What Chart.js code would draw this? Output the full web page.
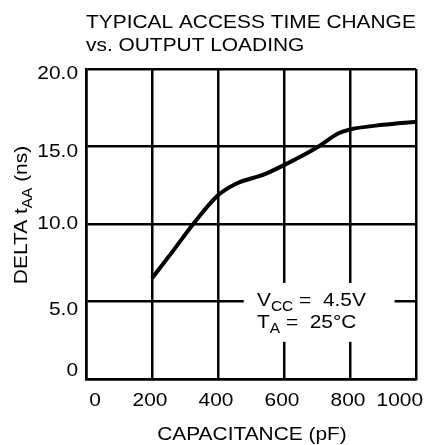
<!DOCTYPE html>
<html>
<head>
<meta charset="utf-8">
<script src="https://cdn.jsdelivr.net/npm/chart.js"></script>
<style>
  html, body { margin: 0; padding: 0; background: #fff; }
  #wrap { width: 426px; height: 445px; position: relative; }
</style>
</head>
<body>
<div id="wrap"><canvas id="c"></canvas></div>
<script>
const capacitance = [200, 265, 325, 400, 455, 540, 600, 655, 705, 765, 800, 900, 1000];
const deltaTaa = [6.5, 8.3, 10.0, 11.85, 12.6, 13.2, 13.8, 14.4, 15.0, 15.85, 16.1, 16.4, 16.6];
const xTicks = [0, 200, 400, 600, 800, 1000];
const yTicks = [0, 5, 10, 15, 20];
const yTickLabels = ['0', '5.0', '10.0', '15.0', '20.0'];
const titleLines = ['TYPICAL ACCESS TIME CHANGE', 'vs. OUTPUT LOADING'];

const FONT = '"Liberation Sans", Arial, sans-serif';
const SIZE = 19;
const SX = 1.1; // the original lettering is a bit wide

// text with subscript parts: [[text, isSub], ...], stretched horizontally
function rich(ctx, parts, x, y, align) {
  const seg = parts.map(([t, sub]) => {
    ctx.font = (sub ? SIZE * 0.74 : SIZE) + 'px ' + FONT;
    return { t, sub, w: ctx.measureText(t).width * SX };
  });
  const total = seg.reduce((a, s) => a + s.w, 0);
  let cx = align === 'center' ? x - total / 2 : align === 'right' ? x - total : x;
  for (const s of seg) {
    ctx.save();
    ctx.font = (s.sub ? SIZE * 0.74 : SIZE) + 'px ' + FONT;
    ctx.translate(cx, s.sub ? y + SIZE * 0.26 : y);
    ctx.scale(SX, 1);
    ctx.textAlign = 'left';
    ctx.fillText(s.t, 0, 0);
    ctx.restore();
    cx += s.w;
  }
}
const plain = (ctx, t, x, y, align) => rich(ctx, [[t, false]], x, y, align);

const decor = {
  id: 'decor',
  beforeDatasetsDraw(chart) {
    const { ctx, scales: { x, y } } = chart;
    // white note box over the grid
    const x0 = x.getPixelForValue(478), x1 = x.getPixelForValue(935);
    const y0 = y.getPixelForValue(6.2), y1 = y.getPixelForValue(2.4);
    ctx.save();
    ctx.fillStyle = '#fff';
    ctx.fillRect(x0, y0, x1 - x0, y1 - y0);
    ctx.fillStyle = '#000';
    ctx.textBaseline = 'alphabetic';
    rich(ctx, [['V', false], ['CC', true], [' =  4.5V', false]], 257, 306, 'left');
    rich(ctx, [['T', false], ['A', true], [' =  25°C', false]], 257, 328, 'left');
    ctx.restore();
  },
  afterDraw(chart) {
    const { ctx, chartArea, scales: { x, y } } = chart;
    ctx.save();
    ctx.fillStyle = '#000';
    ctx.textBaseline = 'alphabetic';
    plain(ctx, titleLines[0], chartArea.left, 28, 'left');
    plain(ctx, titleLines[1], chartArea.left, 51, 'left');

    // y tick labels, hand placed in the original
    const yNudge = [-8, 8, 0, 5, 5];
    ctx.textBaseline = 'middle';
    yTicks.forEach((v, i) => {
      plain(ctx, yTickLabels[i], 78, y.getPixelForValue(v) + yNudge[i], 'right');
    });

    // x tick labels, end ones pulled inward
    xTicks.forEach((v, i) => {
      let px = x.getPixelForValue(v);
      let al = 'center';
      if (i === 0) px += 9;
      else if (i === xTicks.length - 1) { al = 'right'; px += 7; }
      else px -= 2;
      plain(ctx, String(v), px, chartArea.bottom + 22, al);
    });

    ctx.textBaseline = 'alphabetic';
    plain(ctx, 'CAPACITANCE (pF)', 252, 440, 'center');

    // rotated y title with subscript
    ctx.translate(27, 215);
    ctx.rotate(-Math.PI / 2);
    rich(ctx, [['DELTA t', false], ['AA', true], [' (ns)', false]], 0, 0, 'center');
    ctx.restore();
  }
};

new Chart(document.getElementById('c'), {
  type: 'line',
  data: {
    datasets: [{
      data: capacitance.map((c, i) => ({ x: c, y: deltaTaa[i] })),
      borderColor: '#000',
      borderWidth: 4,
      pointRadius: 0,
      cubicInterpolationMode: 'monotone',
      fill: false
    }]
  },
  options: {
    responsive: true,
    maintainAspectRatio: false,
    animation: false,
    layout: { padding: { top: 69, right: 10, left: 0, bottom: 0 } },
    plugins: { legend: { display: false }, tooltip: { enabled: false } },
    scales: {
      x: {
        type: 'linear',
        min: 0, max: 1000,
        afterBuildTicks(s) { s.ticks = xTicks.map(v => ({ value: v })); },
        afterFit(s) { s.height = 66; },
        grid: { color: '#000', lineWidth: 2.5, drawTicks: false },
        border: { color: '#000', width: 2.5 },
        ticks: { display: false }
      },
      y: {
        min: 0, max: 20,
        afterBuildTicks(s) { s.ticks = yTicks.map(v => ({ value: v })); },
        afterFit(s) { s.width = 86; },
        grid: { color: '#000', lineWidth: 2.5, drawTicks: false },
        border: { color: '#000', width: 2.5 },
        ticks: { display: false }
      }
    }
  },
  plugins: [decor]
});
</script>
</body>
</html>
